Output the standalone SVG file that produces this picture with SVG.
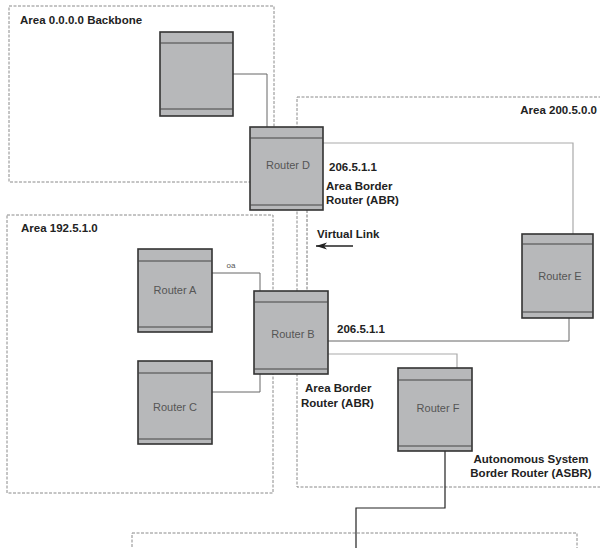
<svg xmlns="http://www.w3.org/2000/svg" width="600" height="548" viewBox="0 0 600 548">
<style>
.area{fill:none;stroke:#8a8a8a;stroke-width:1;stroke-dasharray:3,1.5}
.rb{fill:#b7b8ba;stroke:#333;stroke-width:1.6}
.band{fill:#a9aaac;stroke:#444;stroke-width:1}
.rl{font-family:"Liberation Sans",Arial,sans-serif;font-size:11px;fill:#555;text-anchor:middle}
.lbl{font-family:"Liberation Sans",Arial,sans-serif;font-size:11.5px;font-weight:bold;fill:#222}
.sm{font-family:"Liberation Sans",Arial,sans-serif;font-size:8px;fill:#555;text-anchor:middle}
.ln{fill:none;stroke:#666;stroke-width:1}
.lt{fill:none;stroke:#aaa;stroke-width:1.2}
.dk{fill:none;stroke:#222;stroke-width:1.2}
.vl{fill:none;stroke:#777;stroke-width:1;stroke-dasharray:3,1.5}
</style>
<defs>
<marker id="arr" markerWidth="11" markerHeight="8" refX="11" refY="4" orient="auto" markerUnits="userSpaceOnUse">
<path d="M0,0.5 L11,4 L0,7.5 L3,4 Z" fill="#222"/>
</marker>
</defs>
<rect width="600" height="548" fill="#fff"/>

<g id="areas">
<rect class="area" x="9" y="6" width="265" height="176"/>
<text class="lbl" x="20" y="24">Area 0.0.0.0 Backbone</text>
<rect class="area" x="297" y="97" width="310" height="390"/>
<text class="lbl" x="597" y="114" text-anchor="end">Area 200.5.0.0</text>
<rect class="area" x="7" y="215" width="266" height="278"/>
<text class="lbl" x="21" y="232">Area 192.5.1.0</text>
<rect class="area" x="132" y="533" width="445" height="30"/>
</g>

<g id="connectors">
<polyline class="ln" points="233,74 267,74 267,128"/>
<polyline class="lt" points="323,143 573,143 573,234"/>
<line class="vl" x1="307" y1="210" x2="307" y2="291"/>
<polyline class="ln" points="212,273 260,273 260,291"/>
<polyline class="ln" points="212,392 260,392 260,374"/>
<polyline class="ln" points="328,341 569,341 569,318"/>
<polyline class="lt" points="328,354 457,354 457,368"/>
<polyline class="dk" points="445,451 445,508 356,508 356,548"/>
<line x1="353" y1="246" x2="316" y2="246" stroke="#222" stroke-width="1.5" marker-end="url(#arr)"/>
</g>

<g id="router-top">
<rect class="rb" x="160" y="32" width="73" height="84"/>
<line class="band" x1="160" y1="43" x2="233" y2="43"/>
<line class="band" x1="160" y1="109" x2="233" y2="109"/>
</g>

<g id="router-d">
<rect class="rb" x="250" y="127" width="73" height="83"/>
<line class="band" x1="250" y1="138" x2="323" y2="138"/>
<line class="band" x1="250" y1="205" x2="323" y2="205"/>
<text class="rl" x="288" y="169">Router D</text>
</g>

<g id="router-a">
<rect class="rb" x="138" y="249" width="74" height="83"/>
<line class="band" x1="138" y1="261" x2="212" y2="261"/>
<line class="band" x1="138" y1="327" x2="212" y2="327"/>
<text class="rl" x="175" y="294">Router A</text>
</g>

<g id="router-c">
<rect class="rb" x="138" y="361" width="74" height="83"/>
<line class="band" x1="138" y1="373" x2="212" y2="373"/>
<line class="band" x1="138" y1="439" x2="212" y2="439"/>
<text class="rl" x="175" y="411">Router C</text>
</g>

<g id="router-b">
<rect class="rb" x="254" y="291" width="74" height="83"/>
<line class="band" x1="254" y1="302" x2="328" y2="302"/>
<line class="band" x1="254" y1="369" x2="328" y2="369"/>
<text class="rl" x="293" y="338">Router B</text>
</g>

<g id="router-e">
<rect class="rb" x="522" y="234" width="71" height="84"/>
<line class="band" x1="522" y1="244" x2="593" y2="244"/>
<line class="band" x1="522" y1="312" x2="593" y2="312"/>
<text class="rl" x="560" y="280">Router E</text>
</g>

<g id="router-f">
<rect class="rb" x="398" y="368" width="74" height="83"/>
<line class="band" x1="398" y1="380" x2="472" y2="380"/>
<line class="band" x1="398" y1="446" x2="472" y2="446"/>
<text class="rl" x="438" y="412">Router F</text>
</g>

<g id="labels">
<text class="sm" x="231" y="268">oa</text>
<text class="lbl" x="329" y="171">206.5.1.1</text>
<text class="lbl" x="326" y="190">Area Border</text>
<text class="lbl" x="326" y="204">Router (ABR)</text>
<text class="lbl" x="317" y="238">Virtual Link</text>
<text class="lbl" x="337" y="333">206.5.1.1</text>
<text class="lbl" x="305" y="392">Area Border</text>
<text class="lbl" x="301" y="407">Router (ABR)</text>
<text class="lbl" x="531" y="463" text-anchor="middle">Autonomous System</text>
<text class="lbl" x="531" y="477" text-anchor="middle">Border Router (ASBR)</text>
</g>
</svg>
